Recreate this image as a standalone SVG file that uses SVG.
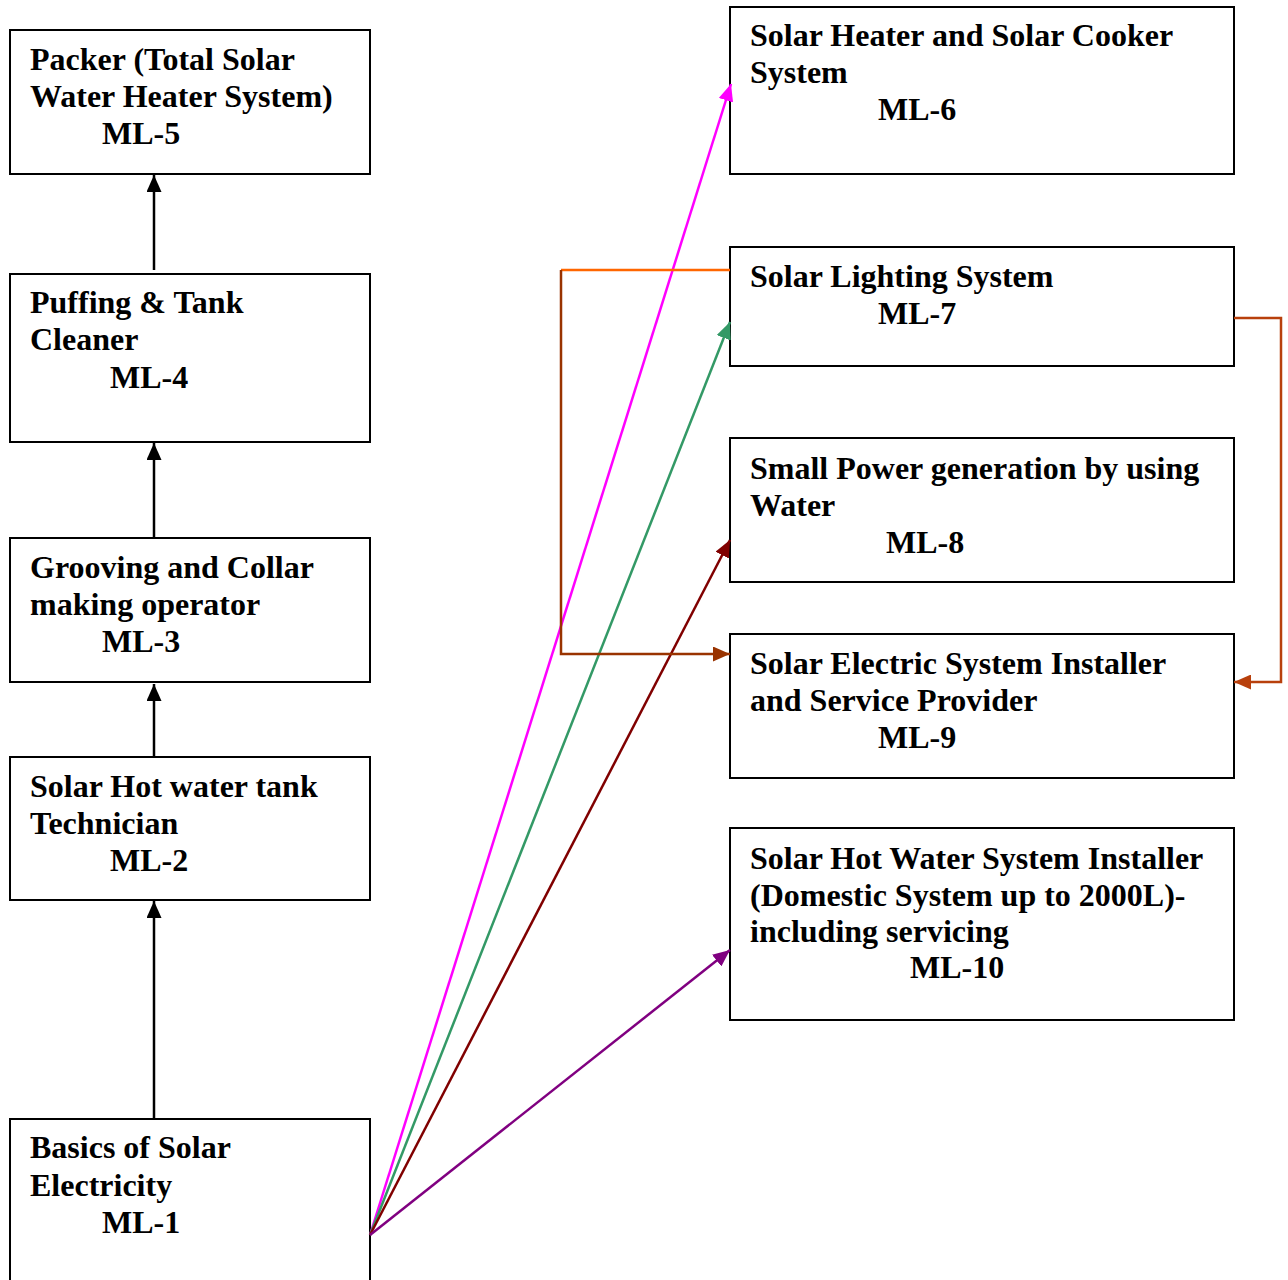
<svg xmlns="http://www.w3.org/2000/svg" width="1288" height="1280" viewBox="0 0 1288 1280">
<style>
.box{fill:#fff;stroke:#000;stroke-width:2}
.t{font-family:"Liberation Serif","Times New Roman",serif;font-weight:bold;font-size:32px;fill:#000}
.c{fill:none;stroke-width:2.5}
</style>
<defs>
<marker id="aK" markerUnits="userSpaceOnUse" markerWidth="17" markerHeight="15" refX="17" refY="7.5" orient="auto"><path d="M0,0L17,7.5L0,15z" fill="#000"/></marker>
<marker id="aM" markerUnits="userSpaceOnUse" markerWidth="17" markerHeight="15" refX="17" refY="7.5" orient="auto"><path d="M0,0L17,7.5L0,15z" fill="#FF00FF"/></marker>
<marker id="aG" markerUnits="userSpaceOnUse" markerWidth="17" markerHeight="15" refX="17" refY="7.5" orient="auto"><path d="M0,0L17,7.5L0,15z" fill="#339966"/></marker>
<marker id="aR" markerUnits="userSpaceOnUse" markerWidth="17" markerHeight="15" refX="17" refY="7.5" orient="auto"><path d="M0,0L17,7.5L0,15z" fill="#800000"/></marker>
<marker id="aP" markerUnits="userSpaceOnUse" markerWidth="17" markerHeight="15" refX="17" refY="7.5" orient="auto"><path d="M0,0L17,7.5L0,15z" fill="#800080"/></marker>
<marker id="aB" markerUnits="userSpaceOnUse" markerWidth="17" markerHeight="15" refX="17" refY="7.5" orient="auto"><path d="M0,0L17,7.5L0,15z" fill="#993300"/></marker>
<marker id="aO" markerUnits="userSpaceOnUse" markerWidth="17" markerHeight="15" refX="17" refY="7.5" orient="auto"><path d="M0,0L17,7.5L0,15z" fill="#B8400C"/></marker>
</defs>
<rect width="1288" height="1280" fill="#fff"/>
<g id="ml5"><rect class="box" x="10" y="30" width="360" height="144"/>
<text class="t" x="30" y="70">Packer (Total Solar</text><text class="t" x="30" y="107">Water Heater System)</text><text class="t" x="102" y="144">ML-5</text></g>
<g id="ml4"><rect class="box" x="10" y="274" width="360" height="168"/>
<text class="t" x="30" y="313">Puffing &amp; Tank</text><text class="t" x="30" y="350">Cleaner</text><text class="t" x="110" y="388">ML-4</text></g>
<g id="ml3"><rect class="box" x="10" y="538" width="360" height="144"/>
<text class="t" x="30" y="578">Grooving and Collar</text><text class="t" x="30" y="615">making operator</text><text class="t" x="102" y="652">ML-3</text></g>
<g id="ml2"><rect class="box" x="10" y="757" width="360" height="143"/>
<text class="t" x="30" y="797">Solar Hot water tank</text><text class="t" x="30" y="834">Technician</text><text class="t" x="110" y="871">ML-2</text></g>
<g id="ml1"><rect class="box" x="10" y="1119" width="360" height="175"/>
<text class="t" x="30" y="1158">Basics of Solar</text><text class="t" x="30" y="1196">Electricity</text><text class="t" x="102" y="1233">ML-1</text></g>
<g id="ml6"><rect class="box" x="730" y="7" width="504" height="167"/>
<text class="t" x="750" y="46">Solar Heater and Solar Cooker</text><text class="t" x="750" y="83">System</text><text class="t" x="878" y="120">ML-6</text></g>
<g id="ml7"><rect class="box" x="730" y="247" width="504" height="119"/>
<text class="t" x="750" y="287">Solar Lighting System</text><text class="t" x="878" y="324">ML-7</text></g>
<g id="ml8"><rect class="box" x="730" y="438" width="504" height="144"/>
<text class="t" x="750" y="479">Small Power generation by using</text><text class="t" x="750" y="516">Water</text><text class="t" x="886" y="553">ML-8</text></g>
<g id="ml9"><rect class="box" x="730" y="634" width="504" height="144"/>
<text class="t" x="750" y="674">Solar Electric System Installer</text><text class="t" x="750" y="711">and Service Provider</text><text class="t" x="878" y="748">ML-9</text></g>
<g id="ml10"><rect class="box" x="730" y="828" width="504" height="192"/>
<text class="t" x="750" y="869">Solar Hot Water System Installer</text><text class="t" x="750" y="906">(Domestic System up to 2000L)-</text><text class="t" x="750" y="942">including servicing</text><text class="t" x="910" y="978">ML-10</text></g>
<g id="connectors">
<line class="c" stroke="#000" x1="154" y1="270" x2="154" y2="175" marker-end="url(#aK)"/>
<line class="c" stroke="#000" x1="154" y1="537" x2="154" y2="443" marker-end="url(#aK)"/>
<line class="c" stroke="#000" x1="154" y1="756" x2="154" y2="684" marker-end="url(#aK)"/>
<line class="c" stroke="#000" x1="154" y1="1118" x2="154" y2="901" marker-end="url(#aK)"/>
<line class="c" stroke="#FF00FF" x1="370" y1="1235" x2="731" y2="84" marker-end="url(#aM)"/>
<line class="c" stroke="#339966" x1="370" y1="1235" x2="730" y2="322" marker-end="url(#aG)"/>
<line class="c" stroke="#800000" x1="370" y1="1235" x2="730" y2="540" marker-end="url(#aR)"/>
<line class="c" stroke="#800080" x1="370" y1="1235" x2="730" y2="950" marker-end="url(#aP)"/>
<line class="c" stroke="#FF6600" x1="730" y1="270" x2="561" y2="270"/>
<polyline class="c" stroke="#993300" points="561,270 561,654 730,654" marker-end="url(#aB)"/>
<polyline class="c" stroke="#B8400C" points="1234,318 1281,318 1281,682 1234,682" marker-end="url(#aO)"/>
</g>
</svg>
